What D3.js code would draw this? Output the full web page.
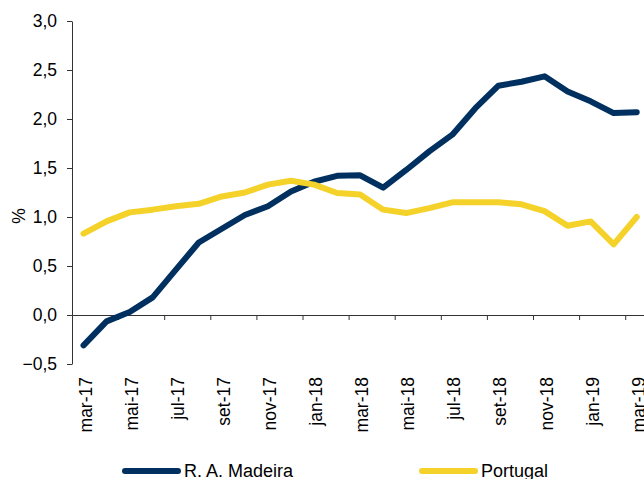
<!DOCTYPE html>
<html>
<head>
<meta charset="utf-8">
<script src="https://d3js.org/d3.v7.min.js"></script>
<style>
  body { margin: 0; background: #fff; }
  svg { display: block; font-family: "Liberation Sans", Arial, sans-serif; }
</style>
</head>
<body>
<div id="chart"></div>
<script>
// Month categories (mar-17 .. mar-19)
var months = ["mar-17", "abr-17", "mai-17", "jun-17", "jul-17", "ago-17", "set-17", "out-17", "nov-17", "dez-17",
  "jan-18", "fev-18", "mar-18", "abr-18", "mai-18", "jun-18", "jul-18", "ago-18", "set-18", "out-18",
  "nov-18", "dez-18", "jan-19", "fev-19", "mar-19"];

// Series values (%)
var madeira = [-0.31, -0.065, 0.03, 0.18, 0.46, 0.74, 0.88, 1.02, 1.11, 1.26,
  1.36, 1.42, 1.425, 1.30, 1.48, 1.67, 1.84, 2.11, 2.34, 2.38,
  2.435, 2.28, 2.18, 2.06, 2.07];
var portugal = [0.83, 0.955, 1.047, 1.075, 1.11, 1.135, 1.21, 1.25, 1.33, 1.37,
  1.33, 1.245, 1.23, 1.075, 1.04, 1.09, 1.15, 1.15, 1.15, 1.13,
  1.06, 0.91, 0.955, 0.72, 1.0];

// Y tick values
var yTicks = [-0.5, 0, 0.5, 1.0, 1.5, 2.0, 2.5, 3.0];

var seriesNames = ["R. A. Madeira", "Portugal"];
var colors = ["#00305f", "#f4d22a"];

// SVG area
var svgWidth = 644;
var svgHeight = 479;

var margin = { top: 21, left: 72, bottom: 115 };
var step = 23.05;

var svg = d3.select("#chart")
  .append("svg")
  .attr("width", svgWidth)
  .attr("height", svgHeight);

// Scales
var xScale = d3.scaleBand()
  .domain(months)
  .range([margin.left, margin.left + months.length * step])
  .padding(0);

var xTickScale = d3.scaleLinear()
  .domain([0, months.length])
  .range([margin.left, margin.left + months.length * step]);

var yScale = d3.scaleLinear()
  .domain([-0.5, 3.0])
  .range([svgHeight - margin.bottom, margin.top]);

var commaFmt = function(d) { return d3.format(".1f")(d).replace(".", ","); };

// Y axis
var leftAxis = d3.axisLeft(yScale)
  .tickValues(yTicks)
  .tickFormat(commaFmt)
  .tickSize(5)
  .tickSizeOuter(0)
  .tickPadding(10);

var yAxisG = svg.append("g")
  .attr("transform", `translate(${margin.left}, 0)`)
  .call(leftAxis);

yAxisG.selectAll("text")
  .attr("font-size", "17.5px")
  .attr("fill", "#000");

// X axis at zero line, ticks every 2 months
var bottomAxis = d3.axisBottom(xTickScale)
  .tickValues(d3.range(0, months.length + 1, 2))
  .tickFormat("")
  .tickSize(5)
  .tickSizeOuter(0);

svg.append("g")
  .attr("transform", `translate(0, ${yScale(0)})`)
  .call(bottomAxis);

svg.selectAll(".domain, .tick line")
  .attr("stroke", "#333");

// Month labels below the plot, every 2nd month
svg.append("g")
  .selectAll("text")
  .data(months.filter(function(d, i) { return i % 2 === 0; }))
  .enter()
  .append("text")
  .attr("transform", d => `translate(${xScale(d) + xScale.bandwidth() / 2 + 8}, ${yScale(-0.5) + 13}) rotate(-90)`)
  .attr("text-anchor", "end")
  .attr("font-size", "17.5px")
  .attr("fill", "#000")
  .text(d => d);

// Y axis title
svg.append("text")
  .attr("transform", "translate(25, 216) rotate(-90)")
  .attr("text-anchor", "middle")
  .attr("font-size", "17.5px")
  .attr("fill", "#000")
  .text("%");

// Lines
var line = d3.line()
  .x((d, i) => xScale(months[i]) + xScale.bandwidth() / 2)
  .y(d => yScale(d));

[madeira, portugal].forEach(function(values, k) {
  svg.append("path")
    .datum(values)
    .attr("d", line)
    .attr("fill", "none")
    .attr("stroke", colors[k])
    .attr("stroke-width", 6)
    .attr("stroke-linecap", "round")
    .attr("stroke-linejoin", "round");
});

// Legend
var legendX = [125, 422];
var legend = svg.selectAll(".legend")
  .data(seriesNames)
  .enter()
  .append("g")
  .attr("class", "legend")
  .attr("transform", (d, i) => `translate(${legendX[i]}, 471)`);

legend.append("line")
  .attr("x1", 0)
  .attr("x2", 53)
  .attr("y1", 0)
  .attr("y2", 0)
  .attr("stroke", (d, i) => colors[i])
  .attr("stroke-width", 6)
  .attr("stroke-linecap", "round");

legend.append("text")
  .attr("x", 59)
  .attr("y", 6)
  .attr("font-size", "18px")
  .attr("fill", "#000")
  .text(d => d);
</script>
</body>
</html>
